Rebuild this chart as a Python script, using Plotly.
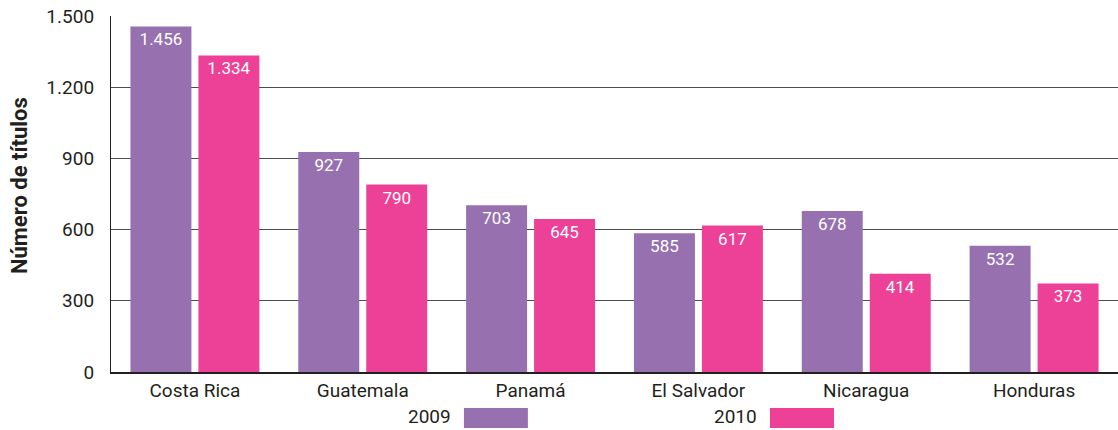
import plotly.graph_objects as go

categories = ["Costa Rica", "Guatemala", "Panamá", "El Salvador", "Nicaragua", "Honduras"]
values_2009 = [1456, 927, 703, 585, 678, 532]
values_2010 = [1334, 790, 645, 617, 414, 373]
series_names = ["2009", "2010"]
y_ticks = [0, 300, 600, 900, 1200, 1500]
y_title = "Número de títulos"

colors = ["#9770B0", "#EC4197"]
FONT = "Roboto, Liberation Sans, sans-serif"
TXT = "#231F20"


def fmt(v):
    return f"{v:,}".replace(",", ".")


fig = go.Figure()
for name, vals, col in zip(series_names, [values_2009, values_2010], colors):
    fig.add_trace(go.Bar(
        x=categories, y=vals, name=name,
        marker=dict(color=col, line=dict(width=0)),
        text=[fmt(v) for v in vals],
        textposition="inside", insidetextanchor="end",
        textfont=dict(color="white", size=17, family=FONT),
        textangle=0,
        showlegend=False,
    ))

fig.update_layout(
    width=1118, height=430,
    margin=dict(l=111, r=0, t=16, b=58, autoexpand=False),
    paper_bgcolor="white", plot_bgcolor="white",
    barmode="group", bargap=0.19, bargroupgap=0.103,
    separators=",.",
    font=dict(family=FONT, size=19, color=TXT),
    uniformtext=dict(mode="show", minsize=10),
)
fig.update_xaxes(
    showline=True, linecolor=TXT, linewidth=1.5,
    ticks="", tickfont=dict(size=19), showgrid=False, automargin=False,
)
fig.update_yaxes(
    range=[0, 1500], tickvals=y_ticks, tickformat=",d",
    showline=True, linecolor=TXT, linewidth=1.2,
    showgrid=True, gridcolor="#4d4d4d", gridwidth=1,
    ticks="", ticklabelstandoff=12, tickfont=dict(size=19),
    ticklabeloverflow="allow",
    zeroline=False, automargin=False,
)

# Y-axis title
fig.add_annotation(xref="paper", yref="paper", x=-0.0914, y=0.525,
                   text="<b>" + y_title + "</b>", textangle=-90, showarrow=False,
                   xanchor="center", yanchor="middle", font=dict(size=22, family=FONT))

# Legend: label to the left of the swatch
legend_pos = [(0.3505, 0.414), (0.6544, 0.718)]
for (x0, x1), name, col in zip(legend_pos, series_names, colors):
    fig.add_shape(type="rect", xref="paper", yref="paper",
                  x0=x0, x1=x1, y0=-0.157, y1=-0.101,
                  fillcolor=col, line=dict(width=0))
    fig.add_annotation(xref="paper", yref="paper", x=x0 - 0.011, y=-0.125,
                       text=name, showarrow=False, xanchor="right", yanchor="middle",
                       font=dict(size=19, family=FONT))

fig.write_html("out.html", config={"displayModeBar": False},
               post_script="document.body.style.margin='0';")
